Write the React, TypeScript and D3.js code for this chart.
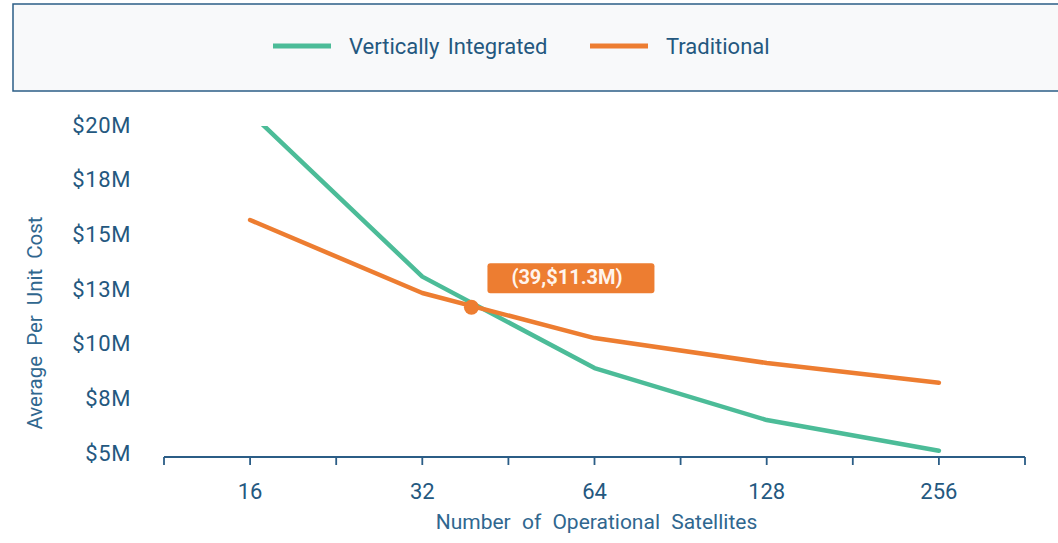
import React from "react";
import * as d3 from "d3";

// Satellite counts on the x axis (log2 spacing)
const satelliteCounts = [16, 32, 64, 128, 256];
// Average per-unit cost in $M for each approach
const verticallyIntegrated = [20.2, 12.7, 8.52, 6.14, 4.74];
const traditional = [15.29, 11.95, 9.89, 8.75, 7.85];
// Y tick values in $M
const costTicks = [5, 7.5, 10, 12.5, 15, 17.5, 20];
// Break-even annotation
const breakEven = { count: 39, cost: 11.3 };

const seriesNames = ["Vertically Integrated", "Traditional"];
const seriesColors = ["#4cbc98", "#ed7d31"];

const W = 1058;
const H = 543;
const FONT = "Roboto, 'Noto Sans', sans-serif";
const AXIS_COLOR = "#2b5d86";
const TEXT_COLOR = "#24587f";
const TITLE_COLOR = "#30678f";

export default function App() {
  const plotLeft = 164;
  const plotRight = 1025;
  const plotTop = 126;
  const axisY = 457;

  const x = d3
    .scaleLog()
    .base(2)
    .domain([Math.pow(2, 3.5), Math.pow(2, 8.5)])
    .range([plotLeft, plotRight]);
  const y = d3.scaleLinear().domain([5, 20]).range([445, 117]);

  const minorTicks = d3.range(3.5, 8.51, 0.5).map((e) => Math.pow(2, e));

  const line = d3
    .line<number>()
    .x((_, i) => x(satelliteCounts[i]))
    .y((d) => y(d))
    .curve(d3.curveLinear);

  const series = [verticallyIntegrated, traditional];

  const px = x(breakEven.count);
  const py = y(breakEven.cost);
  const label = `(${breakEven.count},$${breakEven.cost}M)`;

  return (
    <svg
      width={W}
      height={H}
      style={{ position: "absolute", left: 0, top: 0, background: "#ffffff" }}
      fontFamily={FONT}
    >
      <defs>
        <clipPath id="plot-clip">
          <rect x={plotLeft} y={plotTop} width={plotRight - plotLeft} height={axisY - plotTop} />
        </clipPath>
      </defs>

      {/* Legend panel */}
      <rect x={13} y={4} width={1060} height={87} fill="#f8f9fa" stroke={AXIS_COLOR} strokeWidth={1.5} />
      {seriesNames.map((name, i) => {
        const lx = [273, 590][i];
        return (
          <g key={name}>
            <line x1={lx} x2={lx + 58} y1={46} y2={46} stroke={seriesColors[i]} strokeWidth={5} />
            <text
              x={lx + 76}
              y={46}
              dominantBaseline="central"
              fontSize={22}
              fill={TEXT_COLOR}
              style={{ wordSpacing: "3px" }}
            >
              {name}
            </text>
          </g>
        );
      })}

      {/* Y tick labels */}
      {costTicks.map((t) => (
        <text
          key={t}
          x={131}
          y={y(t) + 8}
          textAnchor="end"
          dominantBaseline="central"
          fontSize={22}
          fill={TEXT_COLOR}
          letterSpacing={0.6}
        >
          {`$${Math.round(t)}M`}
        </text>
      ))}

      {/* Y axis title */}
      <text
        transform={`translate(42,323) rotate(-90)`}
        textAnchor="middle"
        fontSize={20.5}
        fill={TITLE_COLOR}
        style={{ wordSpacing: "5px" }}
      >
        Average Per Unit Cost
      </text>

      {/* X axis */}
      <line x1={plotLeft} x2={plotRight} y1={axisY} y2={axisY} stroke={AXIS_COLOR} strokeWidth={1.8} />
      {minorTicks.map((t, i) => (
        <line
          key={i}
          x1={x(t)}
          x2={x(t)}
          y1={axisY}
          y2={axisY + 8}
          stroke={AXIS_COLOR}
          strokeWidth={1.8}
        />
      ))}
      {satelliteCounts.map((c) => (
        <text
          key={c}
          x={x(c)}
          y={491}
          textAnchor="middle"
          dominantBaseline="central"
          fontSize={22}
          fill={TEXT_COLOR}
        >
          {c}
        </text>
      ))}
      <text
        x={(plotLeft + plotRight) / 2 + 2}
        y={529}
        textAnchor="middle"
        fontSize={21}
        fill={TITLE_COLOR}
        style={{ wordSpacing: "6px" }}
      >
        Number of Operational Satellites
      </text>

      {/* Cost curves */}
      <g clipPath="url(#plot-clip)">
        {series.map((s, i) => (
          <path
            key={i}
            d={line(s) || ""}
            fill="none"
            stroke={seriesColors[i]}
            strokeWidth={4.5}
            strokeLinecap="round"
            strokeLinejoin="round"
          />
        ))}
      </g>

      {/* Break-even marker and label */}
      <circle cx={px} cy={py} r={7.5} fill="#ed7d31" />
      <rect x={px + 16} y={py - 44} width={167} height={30} rx={3} fill="#ed7d31" />
      <text
        x={px + 16 + 167 / 2 - 4}
        y={py - 30}
        textAnchor="middle"
        dominantBaseline="central"
        fontSize={20}
        fontWeight="bold"
        fill="#fff4ec"
      >
        {label}
      </text>
    </svg>
  );
}
